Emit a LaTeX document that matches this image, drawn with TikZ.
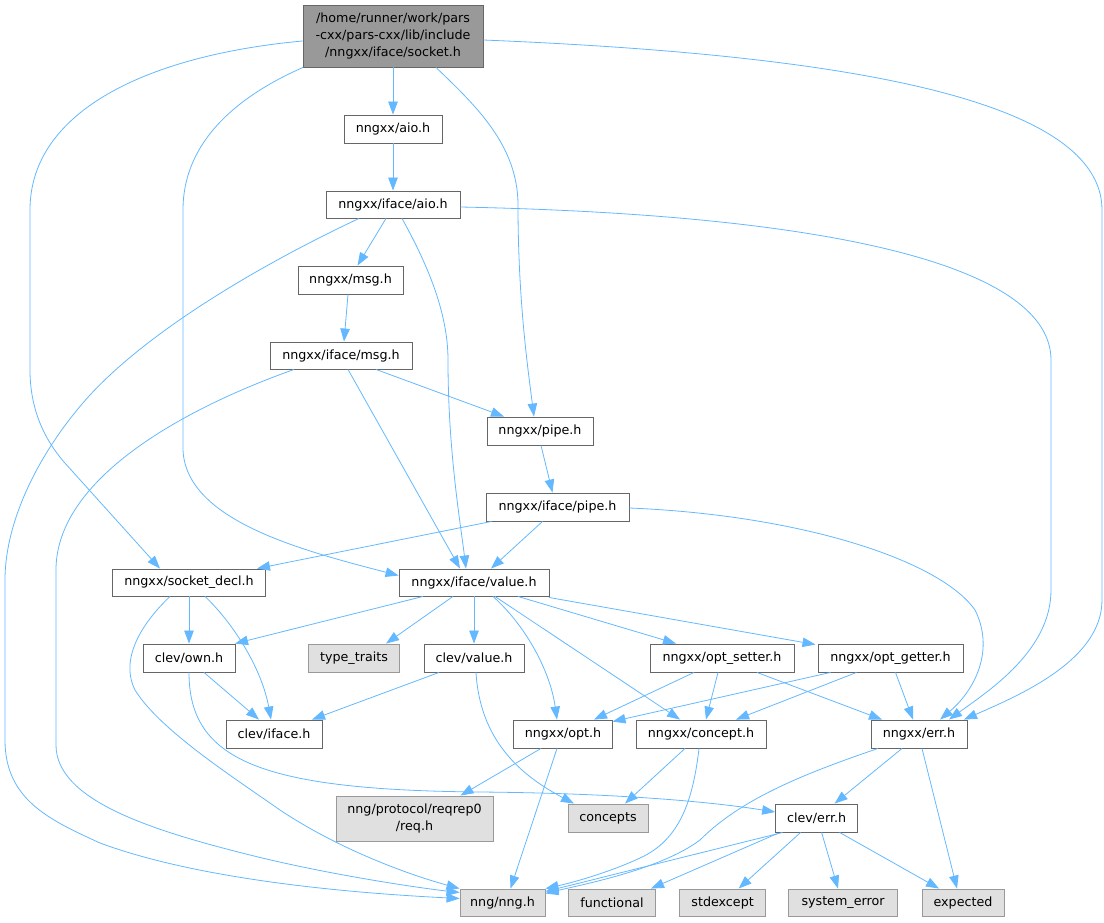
\documentclass[tikz,border=0pt]{standalone}
\usepackage{fontspec}
\setmainfont{DejaVu Sans}
\usetikzlibrary{arrows.meta}
\definecolor{edgec}{HTML}{63B8FF}
\definecolor{boxc}{HTML}{666666}
\definecolor{grayb}{HTML}{999999}
\definecolor{grayf}{HTML}{E0E0E0}
\begin{document}
\begin{tikzpicture}[x=1pt,y=-1pt,
  file/.style={draw=boxc,line width=0.9pt,fill=white,inner sep=0pt,align=center,font=\fontsize{12.7}{17}\selectfont},
  sys/.style={file,draw=grayb,fill=grayf},
  rootf/.style={file,fill=grayb,draw=boxc},
  dep/.style={draw=edgec,line width=0.8pt,-{Triangle[length=13pt,width=9.5pt]}}]
\useasboundingbox (0,0) rectangle (1104,922);
% nodes
\node[rootf,minimum width=180pt,minimum height=62pt] (root) at (393,36) {/home/runner/work/pars\\-cxx/pars-cxx/lib/include\\/nngxx/iface/socket.h};
\node[file,minimum width=98pt,minimum height=28pt] (aio) at (393,129) {nngxx/aio.h};
\node[file,minimum width=134pt,minimum height=27pt] (iaio) at (393,204.5) {nngxx/iface/aio.h};
\node[file,minimum width=105pt,minimum height=28pt] (msg) at (350.5,280) {nngxx/msg.h};
\node[file,minimum width=142pt,minimum height=27pt] (imsg) at (341,355.5) {nngxx/iface/msg.h};
\node[file,minimum width=106pt,minimum height=28pt] (pipe) at (540,431) {nngxx/pipe.h};
\node[file,minimum width=143pt,minimum height=28pt] (ipipe) at (557.5,507) {nngxx/iface/pipe.h};
\node[file,minimum width=153pt,minimum height=27pt] (sdecl) at (189,582.5) {nngxx/socket\_decl.h};
\node[file,minimum width=150pt,minimum height=27pt] (ivalue) at (474,582.5) {nngxx/iface/value.h};
\node[file,minimum width=92pt,minimum height=28pt] (own) at (189,658) {clev/own.h};
\node[sys,minimum width=91pt,minimum height=28pt] (tt) at (354,658) {type\_traits};
\node[file,minimum width=100pt,minimum height=28pt] (cvalue) at (474,658) {clev/value.h};
\node[file,minimum width=96pt,minimum height=28pt] (ciface) at (274,734) {clev/iface.h};
\node[file,minimum width=99pt,minimum height=28pt] (opt) at (563,734) {nngxx/opt.h};
\node[sys,minimum width=157pt,minimum height=45pt] (req) at (414.5,818.5) {nng/protocol/reqrep0\\/req.h};
\node[sys,minimum width=85pt,minimum height=27pt] (nng) at (502.5,902.5) {nng/nng.h};
\node[file,minimum width=144pt,minimum height=28pt] (setter) at (722,658) {nngxx/opt\_setter.h};
\node[file,minimum width=145pt,minimum height=28pt] (getter) at (890.5,658) {nngxx/opt\_getter.h};
\node[file,minimum width=130pt,minimum height=28pt] (concept) at (701,734) {nngxx/concept.h};
\node[file,minimum width=96pt,minimum height=28pt] (err) at (919,734) {nngxx/err.h};
\node[sys,minimum width=80pt,minimum height=28pt] (concepts) at (608,818) {concepts};
\node[file,minimum width=82pt,minimum height=28pt] (cerr) at (816.6,818) {clev/err.h};
\node[sys,minimum width=87pt,minimum height=27pt] (functional) at (612,902.5) {functional};
\node[sys,minimum width=86pt,minimum height=27pt] (stdexcept) at (722.6,902.5) {stdexcept};
\node[sys,minimum width=109pt,minimum height=27pt] (syserr) at (843,902.5) {system\_error};
\node[sys,minimum width=82pt,minimum height=27pt] (expected) at (963,902.5) {expected};
% edges
\draw[dep] (root.south) -- (aio.north);
\draw[dep] (aio.south) -- (iaio.north);
\draw[dep] ([xshift=-7pt]iaio.south) -- ([xshift=7pt]msg.north);
\draw[dep] ([xshift=-2.5pt]msg.south) -- ([xshift=3pt]imsg.north);
\draw[dep] ([xshift=35pt]imsg.south) -- ([xshift=-36pt]pipe.north);
\draw[dep] ([xshift=43pt]root.south) .. controls (475,105) and (518,145) .. (518,205) .. controls (518,300) and (528,370) .. ([xshift=-6pt]pipe.north);
\draw[dep] ([xshift=1pt]pipe.south) -- ([xshift=-5pt]ipipe.north);
\draw[dep] ([yshift=-5pt]root.west) .. controls (150,55) and (30,110) .. (30,210) -- (30,370) .. controls (30,410) and (45,440) .. (64,462) -- ([xshift=-29pt]sdecl.north);
\draw[dep] ([xshift=-90pt]root.south) .. controls (240,95) and (183,140) .. (183,210) -- (183,450) .. controls (186,520) and (300,550) .. ([yshift=7pt]ivalue.west);
\draw[dep] ([xshift=-34pt]iaio.south) .. controls (260,265) and (150,330) .. (90,395) .. controls (40,450) and (5,520) .. (5,580) -- (5,740) .. controls (5,800) and (50,820) .. (100,843) .. controls (200,880) and (350,893) .. ([yshift=4pt]nng.west);
\draw[dep] ([xshift=-47pt]imsg.south) .. controls (180,410) and (56,480) .. (56,570) -- (56,745) .. controls (56,800) and (150,830) .. (250,855) .. controls (330,875) and (420,888) .. ([yshift=10pt]nng.west);
\draw[dep] ([xshift=-19pt]sdecl.south) .. controls (140,625) and (120,660) .. (135,690) .. controls (160,730) and (230,775) .. (280,810) .. controls (340,850) and (410,875) .. (nng.north west);
\draw[dep] ([xshift=9pt]iaio.south) .. controls (425,260) and (448,310) .. (448,360) .. controls (448,450) and (460,520) .. ([xshift=-8pt]ivalue.north);
\draw[dep] ([yshift=-2.5pt]iaio.east) .. controls (850,215) and (1051,270) .. (1051,360) -- (1051,590) .. controls (1051,650) and (990,690) .. ([xshift=30pt]err.north);
\draw[dep] ([yshift=-4pt]root.east) .. controls (850,55) and (1102,100) .. (1102,210) -- (1102,600) .. controls (1102,660) and (1020,695) .. ([xshift=45pt]err.north);
\draw[dep] ([yshift=-1pt]ipipe.east) .. controls (800,515) and (940,560) .. (975,610) .. controls (995,650) and (975,690) .. ([xshift=21pt]err.north);
\draw[dep] ([xshift=7pt]imsg.south) -- ([xshift=-14pt]ivalue.north);
\draw[dep] ([xshift=-66pt]ipipe.south) -- ([xshift=68pt]sdecl.north);
\draw[dep] ([xshift=-15pt]ipipe.south) -- ([xshift=17pt]ivalue.north);
\draw[dep] (sdecl.south) -- (own.north);
\draw[dep] ([xshift=16pt]sdecl.south) .. controls (235,625) and (262,670) .. ([xshift=-3pt]ciface.north);
\draw[dep] ([xshift=-51pt]ivalue.south) -- ([xshift=46pt]own.north);
\draw[dep] ([xshift=-21pt]ivalue.south) -- ([xshift=32pt]tt.north);
\draw[dep] (ivalue.south) -- (cvalue.north);
\draw[dep] ([xshift=19pt]ivalue.south) .. controls (525,625) and (550,670) .. ([xshift=-6pt]opt.north);
\draw[dep] ([xshift=21pt]ivalue.south) -- ([xshift=-21pt]concept.north);
\draw[dep] ([xshift=44pt]ivalue.south) -- ([xshift=-46pt]setter.north);
\draw[dep] ([xshift=75pt,yshift=-1pt]ivalue.south) -- ([xshift=-75pt,yshift=-1pt]getter.north);
\draw[dep] ([xshift=15pt]own.south) -- ([xshift=-15pt]ciface.north);
\draw[dep] (own.south) .. controls (189,760) and (260,790) .. (480,792) .. controls (600,793) and (700,800) .. ([yshift=6pt]cerr.west);
\draw[dep] ([xshift=-35pt]cvalue.south) -- ([xshift=38pt]ciface.north);
\draw[dep] ([xshift=2pt]cvalue.south) .. controls (480,740) and (520,775) .. ([xshift=-34pt]concepts.north);
\draw[dep] ([xshift=-28pt]setter.south) -- ([xshift=31pt]opt.north);
\draw[dep] ([xshift=-4pt]setter.south) -- ([xshift=5pt]concept.north);
\draw[dep] ([xshift=35pt]setter.south) -- ([xshift=-37pt]err.north);
\draw[dep] ([xshift=-60pt]getter.south) -- ([xshift=49.5pt,yshift=-2pt]opt.north);
\draw[dep] ([xshift=-34pt]getter.south) -- ([xshift=35pt]concept.north);
\draw[dep] ([xshift=5pt]getter.south) -- ([xshift=-6pt]err.north);
\draw[dep] ([xshift=-22pt]opt.south) -- ([xshift=46pt]req.north);
\draw[dep] ([xshift=-6pt]opt.south) -- ([xshift=8pt]nng.north);
\draw[dep] ([xshift=-16pt]concept.south) -- ([xshift=17pt]concepts.north);
\draw[dep] ([xshift=-2pt]concept.south) .. controls (693,800) and (680,840) .. (640,858) .. controls (610,872) and (575,882) .. (nng.north east);
\draw[dep] ([xshift=-41pt]err.south) .. controls (800,775) and (740,800) .. (700,840) .. controls (660,870) and (580,885) .. ([yshift=9pt]nng.east);
\draw[dep] ([xshift=-17pt]err.south) -- ([xshift=18pt]cerr.north);
\draw[dep] ([xshift=3pt]err.south) -- ([xshift=-6pt]expected.north);
\draw[dep] ([xshift=-34pt]cerr.south) -- ([yshift=11pt]nng.east);
\draw[dep] ([xshift=-39pt,yshift=-1pt]cerr.south) -- ([xshift=39pt]functional.north);
\draw[dep] ([xshift=-16pt]cerr.south) -- ([xshift=16pt]stdexcept.north);
\draw[dep] ([xshift=5pt]cerr.south) -- ([xshift=-5pt]syserr.north);
\draw[dep] ([xshift=23pt]cerr.south) -- ([xshift=-24pt]expected.north);
\end{tikzpicture}
\end{document}
